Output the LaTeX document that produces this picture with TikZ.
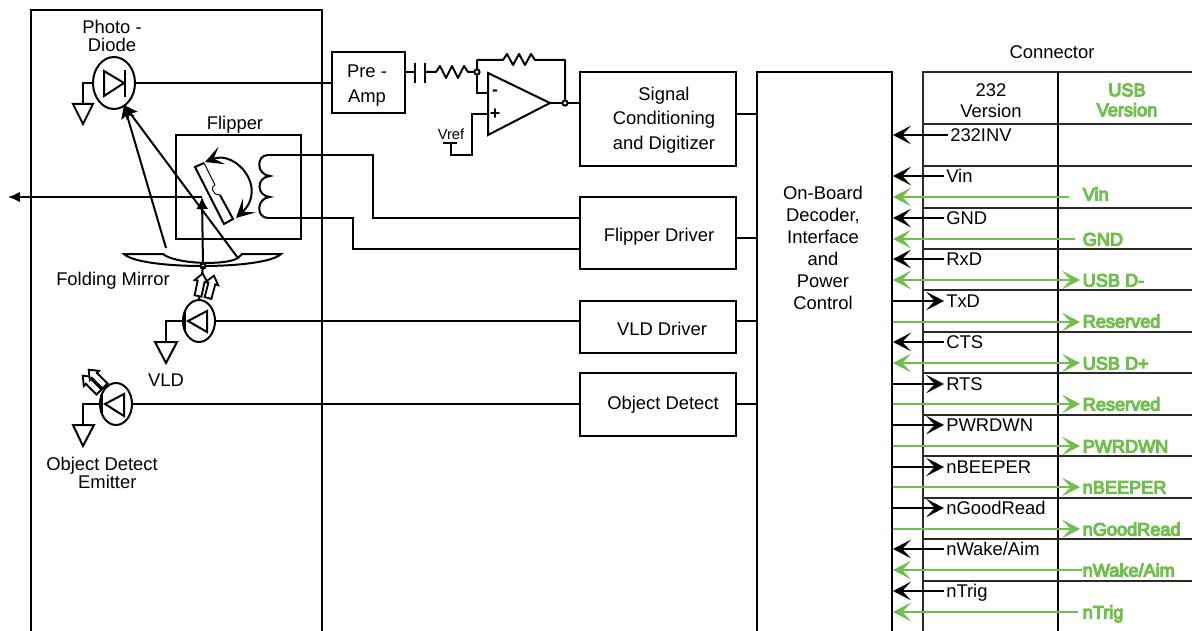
\documentclass[tikz,border=0pt]{standalone}
\usepackage{fontspec}
\setmainfont{Liberation Sans}
\newfontfamily\greenfont[FakeBold=6]{Liberation Sans}
\usetikzlibrary{arrows.meta,shapes.geometric}
\definecolor{usbgreen}{HTML}{70BE4C}
\definecolor{rulegrey}{HTML}{2A2A2A}
\tikzset{
  wire/.style={line width=1.5pt,line join=miter},
  thinw/.style={line width=.7pt},
  blk/.style={draw,line width=1.5pt,inner sep=0pt},
  txt/.style={inner sep=0pt,align=center,font=\fontsize{13.8}{18.4}\selectfont},
  diode/.style={ellipse,draw,line width=1.5pt,inner sep=0pt},
  lab/.style={inner sep=0pt,inner xsep=1.5pt,anchor=west,text height=9.9pt,text depth=0pt,font=\fontsize{13.8}{16}\selectfont},
  glab/.style={lab,text=usbgreen,font=\fontsize{13.6}{16}\greenfont},
  gwire/.style={line width=1.5pt,draw=usbgreen},
  connTip/.tip={Stealth[length=13.5pt,width=14pt,inset=6.5pt]},
  tipL/.style={{connTip}-},
  tipR/.style={-{connTip}},
  tipB/.style={{connTip}-{connTip}},
  ray/.style={-{Stealth[length=10pt,width=10pt,inset=2pt]}},
  grnd/.style={line width=1.5pt,line join=miter},
  hollowarrow/.style={line width=1.4pt,fill=white,line join=miter},
}
\newcommand\bx[5]{\pgfmathsetmacro\bw{(#4-#2)*.75}\pgfmathsetmacro\bh{(#5-#3)*.75}%
  \node[blk,minimum width=\bw pt,minimum height=\bh pt] (#1) at ({(#2+#4)/2},{(#3+#5)/2}) {};}
\newcommand\hollow[3]{\draw[hollowarrow,shift={(#1,#2)},rotate=#3]
  (-3.5,0) -- (-3.5,-15) -- (-6.5,-15) -- (0,-23) -- (6.5,-15) -- (3.5,-15) -- (3.5,0) -- cycle;}
\begin{document}
\begin{tikzpicture}[x=.75pt,y=-.75pt]
\useasboundingbox (0,0) rectangle (1192,631);
\clip (0,0) rectangle (1192,631);

% main boxes
\bx{housing}{31}{10}{322}{660}
\bx{preamp}{332}{52}{405}{113}
\bx{signal}{580}{72}{736}{166}
\bx{flipdrv}{580}{197}{736}{269}
\bx{vlddrv}{580}{301}{736}{353}
\bx{objdrv}{580}{373}{736}{436}
\bx{decoder}{757}{72}{892}{660}
\bx{flipbox}{176}{135}{301}{239}
\node[txt] (lpre) at (367,85.5) {Pre -\\Amp};
\node[txt] (lsig) at (664,120) {Signal\\Conditioning\\and Digitizer};
\node[txt] (lfd) at (659,237) {Flipper Driver};
\node[txt] (lvd) at (662,329) {VLD Driver};
\node[txt] (lod) at (663,405) {Object Detect};
\node[txt,font=\fontsize{13.8}{16.5}\selectfont] (declabel) at (823,248) {On-Board\\Decoder,\\Interface\\and\\Power\\Control};

% block to decoder wires
\foreach \b/\y in {signal/114,flipdrv/238,vlddrv/321,objdrv/404}
  \draw[wire] (\b.east |- 0,\y) -- (decoder.west |- 0,\y);

% labels
\node[txt,font=\fontsize{13.8}{13.5}\selectfont] (lphoto) at (112,36) {Photo -\\Diode};
\node[txt] (lflip) at (235,125) {Flipper};
\node[txt] (lfold) at (113,281) {Folding Mirror};
\node[txt] (lvld) at (166,380) {VLD};
\node[txt,font=\fontsize{13.8}{13.5}\selectfont] (lobj) at (102,473) {Object Detect\\\hspace*{8pt}Emitter};
\node[txt] (lconn) at (1052,52) {Connector};

% photodiode
\node[diode,minimum width=31.5pt,minimum height=39pt] (pd) at (114,83) {};
\draw[wire] (104,71) -- (104,96) -- (124,83) -- cycle;
\draw[wire] (125,70) -- (125,97);
\coordinate (pdg) at (83,83);
\draw[wire] (pd.west) -- (pdg) -- (83,104);
\draw[grnd] (73,104) -- (93,104) -- (83,124) -- cycle;
\draw[wire] (pd.east) -- (preamp.west |- pd.east);

% opamp section
\coordinate (capa) at (415,72);
\coordinate (capb) at (425,72);
\coordinate (junc) at (477,72);
\coordinate (outj) at (565,103);
\draw[wire] (preamp.east |- capa) -- (capa);
\draw[wire] (415,63) -- (415,83);
\draw[wire] (425,63) -- (425,83);
\draw[wire,line join=round] (capb) -- (436,72) -- (440,66) -- (446,78) -- (452,66) -- (458,78) -- (464,66) -- (468,72) -- (junc);
\draw[wire,line join=round] (junc) -- (477,60) -- (503,60) -- (507,54) -- (513,65) -- (519,54) -- (525,65) -- (531,54) -- (535,60) -- (565,60) -- (outj);
\draw[wire] (junc) -- (477,93) -- (488,93);
\draw[wire] (488,73) -- (488,135) -- (550,103) -- cycle;
\draw[wire] (550,103) -- (outj) -- (signal.west |- outj);
\draw[wire,fill=white] (junc) circle (2.6);
\draw[wire,fill=white] (outj) circle (2.6);
\node[txt,font=\bfseries\fontsize{13}{14}\selectfont] (minus) at (495,93) {-};
\node[txt,font=\bfseries\fontsize{13.5}{14}\selectfont] (plus) at (495,114.5) {+};
\draw[wire] (488,114) -- (472,114) -- (472,155) -- (451,155) -- (451,143);
\draw[wire] (443,143) -- (457,143);
\node[txt,font=\fontsize{11}{12}\selectfont] (lvref) at (451,134) {Vref};

% flipper
\draw[wire] (268,155) .. controls (256,155) and (256,175) .. (270,176)
  .. controls (256,177) and (256,196) .. (270,197)
  .. controls (256,198) and (256,218) .. (268,218);
\coordinate (coilT) at (268,155);
\coordinate (coilB) at (268,218);
\draw[wire] (coilT) -- (373,155) -- (373,218) -- (flipdrv.west |- 0,218);
\draw[wire] (coilB) -- (353,218) -- (353,249) -- (flipdrv.west |- 0,249);
\draw[wire] (204,163) -- (195,167) -- (224,224) -- (233,219) -- (220,195);
\draw[thinw] (204,163) -- (215,185);
\draw[thinw] (215,185) .. controls (211,185) and (211,195) .. (220,195);
\draw[wire,tipB] (205,162) .. controls (236,150) and (268,188) .. (236,218);

% outgoing beam & rays
\coordinate (mirc) at (203,266);
\coordinate (beamc) at (202,197);
\draw[wire,-{Latex[length=9pt,width=8pt]}] (beamc) -- (8,197);
\draw[wire,-{Latex[length=9pt,width=9pt]}] (mirc) -- (beamc);
\draw[wire,ray] (166,248) -- (124,105);
\draw[wire,ray] (238,258) -- (124,105);

% mirror
\draw[wire] (124,254) -- (163,254) .. controls (175,264) and (225,266) .. (238,258) -- (242,254) -- (281,254)
  .. controls (265,270) and (140,270) .. (124,254) -- cycle;
\draw[wire,fill=white] (mirc) circle (2.6);

% VLD
\node[diode,minimum width=24pt,minimum height=31.5pt] (vld) at (199,321) {};
\draw[wire] (vld.north) -- (mirc);
\hollow{198}{296}{-12}
\hollow{208}{298}{-15}
\draw[wire] (188,321) -- (207,311) -- (207,332) -- cycle;
\draw[wire] (185,312) -- (185,330);
\draw[wire] (vld.east) -- (vlddrv.west |- vld.east);
\draw[wire] (vld.west) -- (166,321) -- (166,342);
\draw[grnd] (155,342) -- (177,342) -- (166,363) -- cycle;

% object detect emitter
\node[diode,minimum width=24pt,minimum height=31.5pt] (obj) at (116,404) {};
\draw[wire] (105,404) -- (124,394) -- (124,416) -- cycle;
\draw[wire] (102,395) -- (102,413);
\hollow{99}{392}{45}
\hollow{105}{386}{45}
\draw[wire] (obj.east) -- (objdrv.west |- obj.east);
\draw[wire] (obj.west) -- (83,404) -- (83,425);
\draw[grnd] (73,425) -- (94,425) -- (83,446) -- cycle;

% connector table
\draw[wire,draw=rulegrey] (923,640) -- (923,72) -- (1192,72);
\draw[wire] (1058,72) -- (1058,640);
\foreach \y in {124,166,207.6,249,290,331.6,373,415,456,497.6,539,581}
  \draw[wire,draw=rulegrey] (923,\y) -- (1192,\y);
\node[txt,font=\fontsize{13.8}{15.75}\selectfont] (l232) at (991,100.5) {232\\Version};
\node[txt,text=usbgreen,font=\fontsize{13.6}{15}\greenfont] (lusb) at (1127,100) {USB\\Version};

% signals, RS-232 version
\foreach \n/\x/\y/\t/\s in {
  a/948/135/232INV/tipL, b/944/176/Vin/tipL, c/944/218/GND/tipL, d/944/259/RxD/tipL,
  e/944/301/TxD/tipR, f/944/342/CTS/tipL, g/944/384/RTS/tipR, h/944/425/PWRDWN/tipR,
  i/944/467/nBEEPER/tipR, j/944/508/nGoodRead/tipR, k/944/549/nWake\slash Aim/tipL, l/944/591/nTrig/tipL}{
  \node[lab] (blk\n) at (\x,\y) {\t};
  \draw[wire,\s] (decoder.east |- blk\n.west) -- (blk\n.west);
}
% signals, USB version
\foreach \n/\e/\y/\ty/\t/\s in {
  a/1069/197/194/Vin/tipL, b/1075/239/239/GND/tipL, c/1080/280/280/USB D-/tipB,
  d/1080/322/321/Reserved/tipR, e/1080/363/363/USB D+/tipB, f/1080/404/404/Reserved/tipR,
  g/1080/446/446/PWRDWN/tipR, h/1080/487/487/nBEEPER/tipR, i/1080/529/529/nGoodRead/tipR,
  j/1082/570/570/nWake\slash Aim/tipL, k/1078/612/612/nTrig/tipL}{
  \coordinate (gend\n) at (\e,\y);
  \node[glab] (grn\n) at (1080.5,\ty) {\t};
  \draw[gwire,\s] (decoder.east |- gend\n) -- (gend\n);
}
\end{tikzpicture}
\end{document}
